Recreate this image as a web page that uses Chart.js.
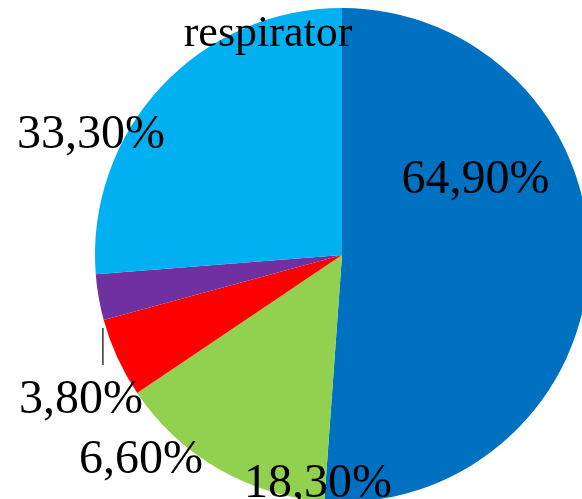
<!DOCTYPE html>
<html>
<head>
<meta charset="utf-8">
<script src="https://cdn.jsdelivr.net/npm/chart.js@4/dist/chart.umd.min.js"></script>
<style>
  html, body { margin: 0; padding: 0; overflow: hidden; background: #fff; }
  #wrap { position: absolute; left: 0; top: 0; width: 600px; height: 510px; }
</style>
</head>
<body>
<div id="wrap"><canvas id="pieChart" width="600" height="510"></canvas></div>
<script>
// data (clockwise from 12 o'clock)
const categories = ['A', 'B', 'C', 'D', 'E'];
const values = [64.9, 18.3, 6.6, 3.8, 33.3];
const sliceColors = ['#0070C0', '#92D050', '#FF0000', '#7030A0', '#00B0F0'];
const chartTitle = 'respirator';

// label baseline positions, in units of the pie radius from the centre
const labelOffsets = [
    [0.540, -0.251],
    [-0.097, 0.980],
    [-0.814, 0.883],
    [-1.057, 0.640],
    [-1.016, -0.433]
];

function fmt(v) {
    return v.toFixed(2).replace('.', ',') + '%';
}

const labelPlugin = {
    id: 'pieLabels',
    afterDraw(chart) {
        const ctx = chart.ctx;
        const arc = chart.getDatasetMeta(0).data[0];
        const cx = arc.x, cy = arc.y, r = arc.outerRadius;

        ctx.save();
        ctx.fillStyle = '#000';
        ctx.font = '48px "Liberation Serif", "Times New Roman", serif';
        ctx.textAlign = 'center';
        ctx.textBaseline = 'alphabetic';
        values.forEach((v, i) => {
            const [ox, oy] = labelOffsets[i];
            ctx.fillText(fmt(v), cx + ox * r, cy + oy * r);
        });

        // leader line for the small purple slice
        ctx.strokeStyle = '#000';
        ctx.lineWidth = 1.2;
        ctx.beginPath();
        ctx.moveTo(cx - 0.968 * r, cy + 0.296 * r);
        ctx.lineTo(cx - 0.968 * r, cy + 0.445 * r);
        ctx.stroke();

        // title sits over the pie
        ctx.font = '44px "Liberation Serif", "Times New Roman", serif';
        ctx.fillText(chartTitle, 268, 46);
        ctx.restore();
    }
};

new Chart(document.getElementById('pieChart'), {
    type: 'pie',
    data: {
        labels: categories,
        datasets: [{
            data: values,
            backgroundColor: sliceColors,
            borderWidth: 0
        }]
    },
    options: {
        responsive: false,
        animation: false,
        layout: {
            padding: { left: 95, top: 8, right: 11, bottom: 8 }
        },
        plugins: {
            legend: { display: false },
            title: { display: false },
            tooltip: { enabled: false }
        }
    },
    plugins: [labelPlugin]
});
</script>
</body>
</html>
